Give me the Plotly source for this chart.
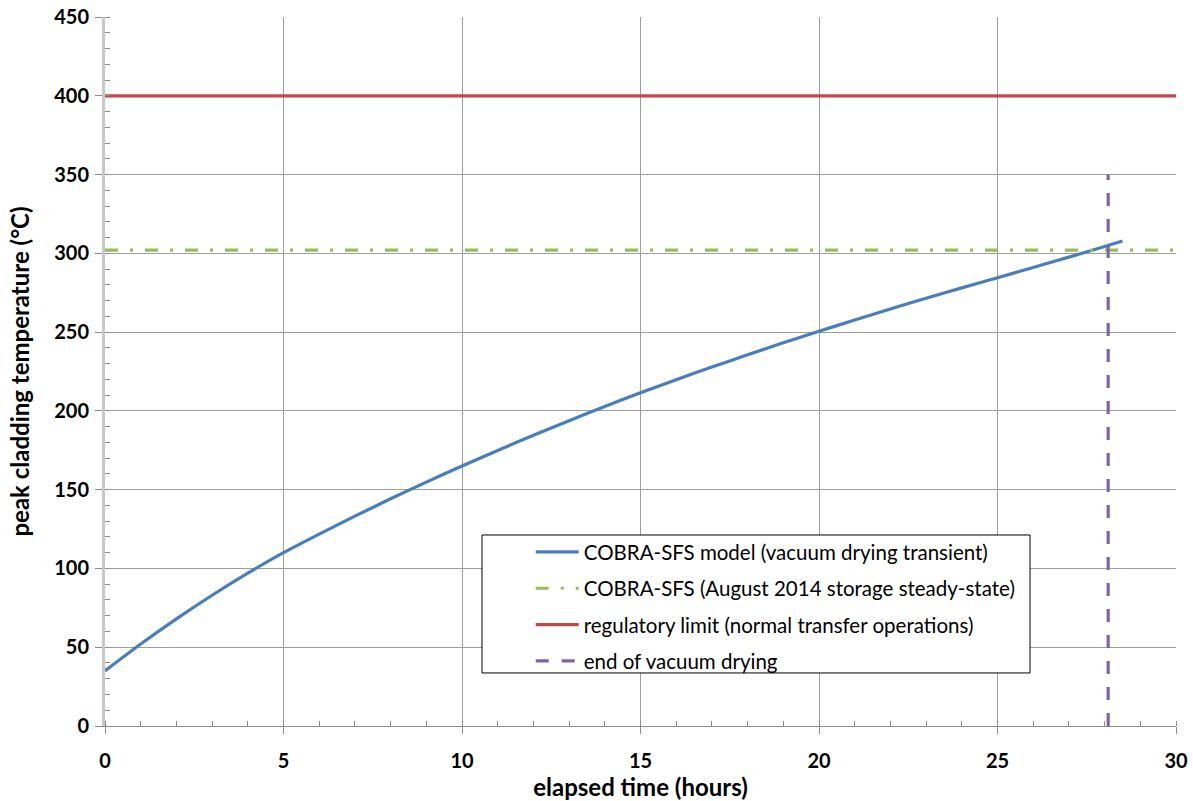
import plotly.graph_objects as go

# ---- data ----
hours = [0, 1, 2, 3, 4, 5, 6, 7, 8, 9, 10, 11, 12, 13, 14, 15, 16, 17, 18, 19,
         20, 21, 22, 23, 24, 25, 26, 27, 28, 28.5]
pct = [35, 52, 68, 83, 97, 110, 121.8, 133.2, 144.2, 154.8, 165, 174.9, 184.5,
       193.8, 202.8, 211.5, 219.8, 227.8, 235.6, 243.2, 250.5, 257.7, 264.7,
       271.5, 278.1, 284.5, 291, 297.6, 304.3, 307.8]

steady_x = [0, 30]
steady_y = [302, 302]

limit_x = [0, 30]
limit_y = [400, 400]

end_x = [28.1, 28.1]
end_y = [0, 350]

names = ["COBRA-SFS model (vacuum drying transient)",
         "COBRA-SFS (August 2014 storage steady-state)",
         "regulatory limit (normal transfer operations)",
         "end of vacuum drying"]

FONT = "Lato"

fig = go.Figure()
fig.add_trace(go.Scatter(x=hours, y=pct, mode="lines", name=names[0], legendgroup="a",
                         line=dict(color="#4A7EBB", width=3.2, shape="spline", smoothing=0.6)))
fig.add_trace(go.Scatter(x=steady_x, y=steady_y, mode="lines", name=names[1], legendgroup="b",
                         line=dict(color="#9BBB59", width=3.2, dash="13px,12px,3px,12px")))
fig.add_trace(go.Scatter(x=limit_x, y=limit_y, mode="lines", name=names[2], legendgroup="c",
                         line=dict(color="#BE4B48", width=3.2)))
fig.add_trace(go.Scatter(x=end_x, y=end_y, mode="lines", name=names[3], legendgroup="d",
                         line=dict(color="#8064A2", width=3.2, dash="13px,13px")))

# legend frame (opaque white box with black border)
fig.add_shape(type="rect", xref="paper", yref="paper",
              x0=0.352, x1=0.8637, y0=0.0748, y1=0.2694,
              line=dict(color="black", width=1), fillcolor="white", layer="above")

fig.update_layout(
    width=1193, height=801,
    margin=dict(l=105, r=17, t=17, b=75),
    paper_bgcolor="white", plot_bgcolor="white",
    font=dict(family=FONT, color="black"),
    showlegend=True,
    legend=dict(x=0.3975, y=0.2735, xanchor="left", yanchor="top",
                bgcolor="rgba(0,0,0,0)", borderwidth=0,
                font=dict(family=FONT, size=20.5, color="black"),
                itemwidth=43,
                tracegroupgap=6.7, traceorder="grouped"),
    xaxis=dict(
        range=[0, 30], dtick=5, tick0=0, automargin=False,
        showgrid=True, gridcolor="#9E9E9E", gridwidth=1,
        showline=True, linecolor="#8C8C8C", linewidth=1,
        ticks="outside", ticklen=7, tickcolor="#8C8C8C",
        ticklabelstandoff=10,
        tickfont=dict(family=FONT, size=20, color="black", weight="bold"),
        minor=dict(dtick=1, ticks="inside", ticklen=5, tickcolor="#8C8C8C", showgrid=False),
        title=dict(text="elapsed time (hours)", standoff=8,
                   font=dict(family=FONT, size=24, color="black", weight="bold")),
        zeroline=False,
    ),
    yaxis=dict(
        range=[0, 450], dtick=50, tick0=0, automargin=False,
        showgrid=True, gridcolor="#9E9E9E", gridwidth=1,
        showline=True, linecolor="#C8C8C8", linewidth=3,
        ticks="outside", ticklen=7, tickcolor="#8C8C8C",
        ticklabelstandoff=2,
        tickfont=dict(family=FONT, size=20, color="black", weight="bold"),
        minor=dict(dtick=10, ticks="inside", ticklen=5, tickcolor="#8C8C8C", showgrid=False),
        title=dict(text="peak cladding temperature (°C)", standoff=18,
                   font=dict(family=FONT, size=24, color="black", weight="bold")),
        zeroline=False,
    ),
)

fig.write_html("out.html")
